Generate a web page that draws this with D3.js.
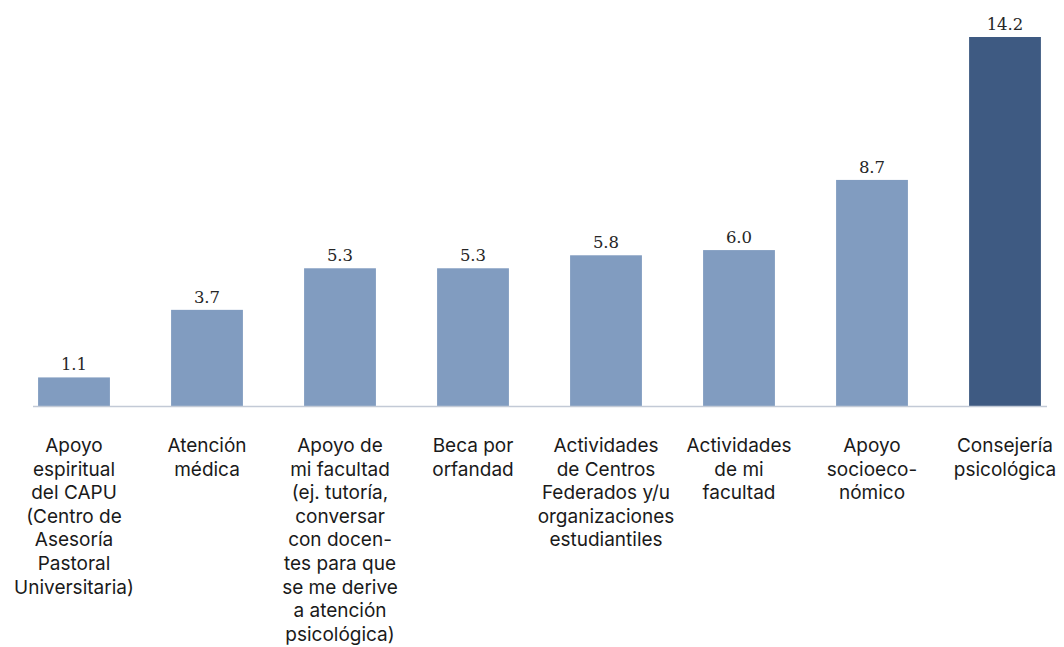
<!DOCTYPE html>
<html lang="es">
<head>
<meta charset="UTF-8">
<script src="https://d3js.org/d3.v7.min.js"></script>
<style>
  body { margin: 0; background: #fff; }
  .val { font-family: "DejaVu Serif", serif; font-size: 16.5px; fill: #262626; }
  .cat { font-family: Inter, sans-serif; font-size: 19px; letter-spacing: 0px; fill: #1a1a1a; }
</style>
</head>
<body>
<svg width="1064" height="647"></svg>
<script>
// data
var categories = [
  "Apoyo espiritual del CAPU",
  "Atención médica",
  "Apoyo de mi facultad",
  "Beca por orfandad",
  "Actividades de Centros Federados",
  "Actividades de mi facultad",
  "Apoyo socioeconómico",
  "Consejería psicológica"
];
var values = [1.1, 3.7, 5.3, 5.3, 5.8, 6.0, 8.7, 14.2];
var labelLines = [
  ["Apoyo", "espiritual", "del CAPU", "(Centro de", "Asesoría", "Pastoral", "Universitaria)"],
  ["Atención", "médica"],
  ["Apoyo de", "mi facultad", "(ej. tutoría,", "conversar", "con docen-", "tes para que", "se me derive", "a atención", "psicológica)"],
  ["Beca por", "orfandad"],
  ["Actividades", "de Centros", "Federados y/u", "organizaciones", "estudiantiles"],
  ["Actividades", "de mi", "facultad"],
  ["Apoyo", "socioeco-", "nómico"],
  ["Consejería", "psicológica"]
];
var highlight = "Consejería psicológica";

var svg = d3.select("svg");
var baseY = 406;

var x = d3.scaleBand()
    .domain(categories)
    .range([7.5, 7.5 + 133 * 8])
    .paddingInner(0.46)
    .paddingOuter(0.23);

var y = d3.scaleLinear()
    .domain([0, 14.2])
    .range([baseY, 37]);

// bars
svg.selectAll(".bar")
    .data(categories)
  .enter().append("rect")
    .attr("class", "bar")
    .attr("x", function(d) { return x(d); })
    .attr("width", x.bandwidth())
    .attr("y", function(d, i) { return y(values[i]); })
    .attr("height", function(d, i) { return baseY - y(values[i]); })
    .attr("fill", function(d) { return d == highlight ? "#3e5a82" : "#819cc0"; });

// baseline
svg.append("line")
    .attr("x1", 33).attr("x2", 1047)
    .attr("y1", baseY + 0.5).attr("y2", baseY + 0.5)
    .attr("stroke", "#c3cad6")
    .attr("stroke-width", 1.5);

// value labels
svg.selectAll(".val")
    .data(categories)
  .enter().append("text")
    .attr("class", "val")
    .attr("x", function(d) { return x(d) + x.bandwidth() / 2; })
    .attr("y", function(d, i) { return y(values[i]) - 7; })
    .attr("text-anchor", "middle")
    .text(function(d, i) { return values[i].toFixed(1); });

// category labels
var cat = svg.selectAll(".cat")
    .data(categories)
  .enter().append("text")
    .attr("class", "cat")
    .attr("text-anchor", "middle")
    .attr("x", function(d) { return x(d) + x.bandwidth() / 2; })
    .attr("y", 452);

cat.selectAll("tspan")
    .data(function(d, i) { return labelLines[i]; })
  .enter().append("tspan")
    .attr("x", function() { return d3.select(this.parentNode).attr("x"); })
    .attr("dy", function(d, i) { return i == 0 ? 0 : 23.6; })
    .text(function(d) { return d; });
</script>
</body>
</html>
